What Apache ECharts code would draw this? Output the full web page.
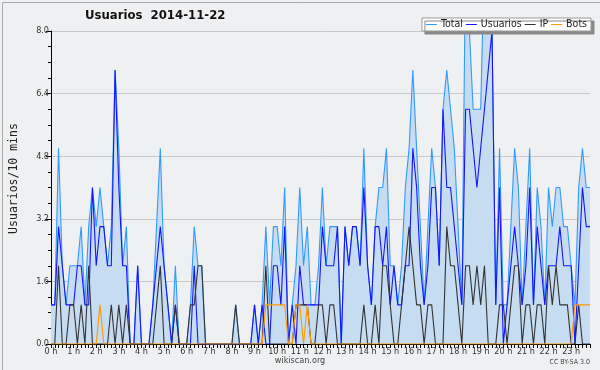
<!DOCTYPE html>
<html><head><meta charset="utf-8">
<script src="https://cdn.jsdelivr.net/npm/echarts@6/dist/echarts.min.js"></script>
<style>html,body{margin:0;padding:0;background:#eff0f1}#c{width:600px;height:370px}</style>
</head><body><div id="c"></div>
<script>
// hour tick labels and 10-minute slots
const hourLabels = ["0 h","1 h","2 h","3 h","4 h","5 h","6 h","7 h","8 h","9 h","10 h","11 h","12 h","13 h","14 h","15 h","16 h","17 h","18 h","19 h","20 h","21 h","22 h","23 h"];
const minuteSlots = ["00","10","20","30","40","50"];
const yTicks = [0, 1.6, 3.2, 4.8, 6.4, 8.0];

const total = [
 1,1,5,2,1,2,2,2,3,1,3,4,
 3,4,3,2,3,7,5,2,3,0,0,2,
 0,0,0,1,3,5,2,1,0,2,0,0,
 0,1,3,2,2,0,0,0,0,0,0,0,
 0,1,0,0,0,0,1,0,1,3,1,3,
 3,2,4,0,1,2,4,2,3,1,1,2,
 4,2,3,3,3,0,3,2,3,3,2,5,
 2,1,3,4,4,5,2,2,1,2,4,5,
 7,5,3,1,3,5,4,2,6,7,6,5,
 3,1,10,8,6,6,6,10,8,8,1,5,
 1,1,3,5,4,1,3,5,1,4,3,1,
 4,3,4,4,3,3,2,1,4,5,4,4];
const usuarios = [
 1,1,3,2,1,1,1,2,2,1,1,4,
 2,3,3,2,2,7,4,2,2,0,0,2,
 0,0,0,1,2,3,2,1,0,1,0,0,
 0,0,2,0,0,0,0,0,0,0,0,0,
 0,0,0,0,0,0,1,0,1,0,0,2,
 2,1,3,0,1,0,2,1,1,1,1,1,
 3,2,2,2,3,0,3,2,3,3,2,4,
 2,1,3,3,2,3,1,2,1,1,2,2,
 5,4,2,1,2,4,4,2,6,4,4,3,
 2,1,6,6,5,4,5,6,7,8,1,4,
 0,1,2,3,2,1,2,4,1,3,2,1,
 2,2,2,3,2,2,2,0,2,4,3,3];
const ip = [
 0,0,2,0,0,1,1,0,1,0,2,0,
 0,0,0,0,1,0,1,0,1,0,0,0,
 0,0,0,0,1,2,0,0,0,1,0,0,
 0,1,1,2,2,0,0,0,0,0,0,0,
 0,1,0,0,0,0,0,0,0,2,0,0,
 0,0,0,0,0,1,1,1,1,0,0,1,
 1,0,1,1,0,0,0,0,0,0,0,1,
 0,0,1,0,2,2,1,0,0,1,2,3,
 2,1,1,0,1,1,0,0,0,3,2,2,
 1,0,2,2,1,2,1,2,0,0,0,1,
 1,0,1,2,2,0,1,1,0,1,1,0,
 2,1,2,1,1,1,0,0,1,0,0,0];
const bots = [
 0,0,0,0,0,0,0,0,0,0,0,0,
 0,1,0,0,0,0,0,0,0,0,0,0,
 0,0,0,0,0,0,0,0,0,0,0,0,
 0,0,0,0,0,0,0,0,0,0,0,0,
 0,0,0,0,0,0,0,0,0,1,1,1,
 1,1,1,0,0,1,1,0,1,0,0,0,
 0,0,0,0,0,0,0,0,0,0,0,0,
 0,0,0,0,0,0,0,0,0,0,0,0,
 0,0,0,0,0,0,0,0,0,0,0,0,
 0,0,0,0,0,0,0,0,0,0,0,0,
 0,0,0,0,0,0,0,0,0,0,0,0,
 0,0,0,0,0,0,0,1,1,1,1,1];

const categories = [];
hourLabels.forEach(h => minuteSlots.forEach(m => categories.push(h + ' ' + m)));

const FONT = '"DejaVu Sans Condensed", "DejaVu Sans", sans-serif';
const chart = echarts.init(document.getElementById('c'), null, {renderer: 'canvas'});
chart.setOption({
  animation: false,
  backgroundColor: '#eff0f1',
  textStyle: {fontFamily: FONT},
  grid: {left: 47, right: 10, top: 31, bottom: 26, containLabel: false},
  legend: {
    top: 18, right: 9, orient: 'horizontal',
    backgroundColor: '#ffffff', borderColor: '#999', borderWidth: 1,
    shadowColor: '#888', shadowBlur: 0, shadowOffsetX: 3, shadowOffsetY: 3,
    padding: [1, 4, 1, 4], itemGap: 3, itemWidth: 11, itemHeight: 1,
    icon: 'rect',
    textStyle: {fontFamily: FONT, fontSize: 10.5, color: '#222', padding: [0, 0, 0, -1]},
    data: ['Total', 'Usuarios', 'IP', 'Bots']
  },
  xAxis: {
    type: 'category', data: categories, boundaryGap: false,
    axisLine: {lineStyle: {color: '#000', width: 1}},
    axisTick: {show: true, interval: 0, length: 4, lineStyle: {color: '#000'}},
    axisLabel: {interval: 5, fontSize: 9, color: '#333', margin: 3, fontFamily: FONT,
      formatter: v => v.split(' ').slice(0, 2).join(' ')},
    splitLine: {show: false}
  },
  yAxis: {
    type: 'value', min: yTicks[0], max: yTicks[yTicks.length - 1], interval: 1.6,
    name: 'Usuarios/10 mins', nameLocation: 'middle', nameRotate: 90, nameGap: 31,
    nameTextStyle: {fontFamily: 'DejaVu Sans Mono', fontSize: 11.5, color: '#222', padding: [0, 0, 0, 18]},
    axisLine: {show: true, lineStyle: {color: '#000', width: 1}},
    axisTick: {show: true, length: 5, lineStyle: {color: '#000'}},
    minorTick: {show: true, splitNumber: 4, length: 3, lineStyle: {color: '#000'}},
    axisLabel: {fontSize: 9, color: '#333', margin: 2, fontFamily: FONT,
      formatter: v => v.toFixed(1)},
    splitLine: {lineStyle: {color: '#c9c9c9', width: 1}}
  },
  series: [
    {name: 'Total', type: 'line', data: total, symbol: 'none', color: '#3399ff',
     lineStyle: {color: '#3399ff', width: 1.1}, areaStyle: {color: '#c6dcf0', opacity: 1}, z: 2},
    {name: 'Usuarios', type: 'line', data: usuarios, symbol: 'none', color: '#1515ff',
     lineStyle: {color: '#1515ff', width: 1.1}, z: 3},
    {name: 'IP', type: 'line', data: ip, symbol: 'none', color: '#333333',
     lineStyle: {color: '#333333', width: 1.1}, z: 4},
    {name: 'Bots', type: 'line', data: bots, symbol: 'none', color: '#ff9900',
     lineStyle: {color: '#ff9900', width: 1.1}, z: 5}
  ],
  graphic: [
    {type: 'rect', left: 0, top: 0, shape: {x: 0.5, y: 0.5, width: 599, height: 369},
     style: {fill: 'none', stroke: '#aaaaaa', lineWidth: 1}, silent: true, z: -1},
    {type: 'text', left: 85, top: 9,
     style: {text: 'Usuarios  2014-11-22', font: 'bold 13px ' + FONT, fill: '#111'}},
    {type: 'text', x: 300, y: 361,
     style: {text: 'wikiscan.org', font: '9px ' + FONT, fill: '#444', align: 'center', verticalAlign: 'middle'}},
    {type: 'text', x: 590, y: 362,
     style: {text: 'CC BY-SA 3.0', font: '7px ' + FONT, fill: '#444', align: 'right', verticalAlign: 'middle'}}
  ]
});
</script></body></html>
